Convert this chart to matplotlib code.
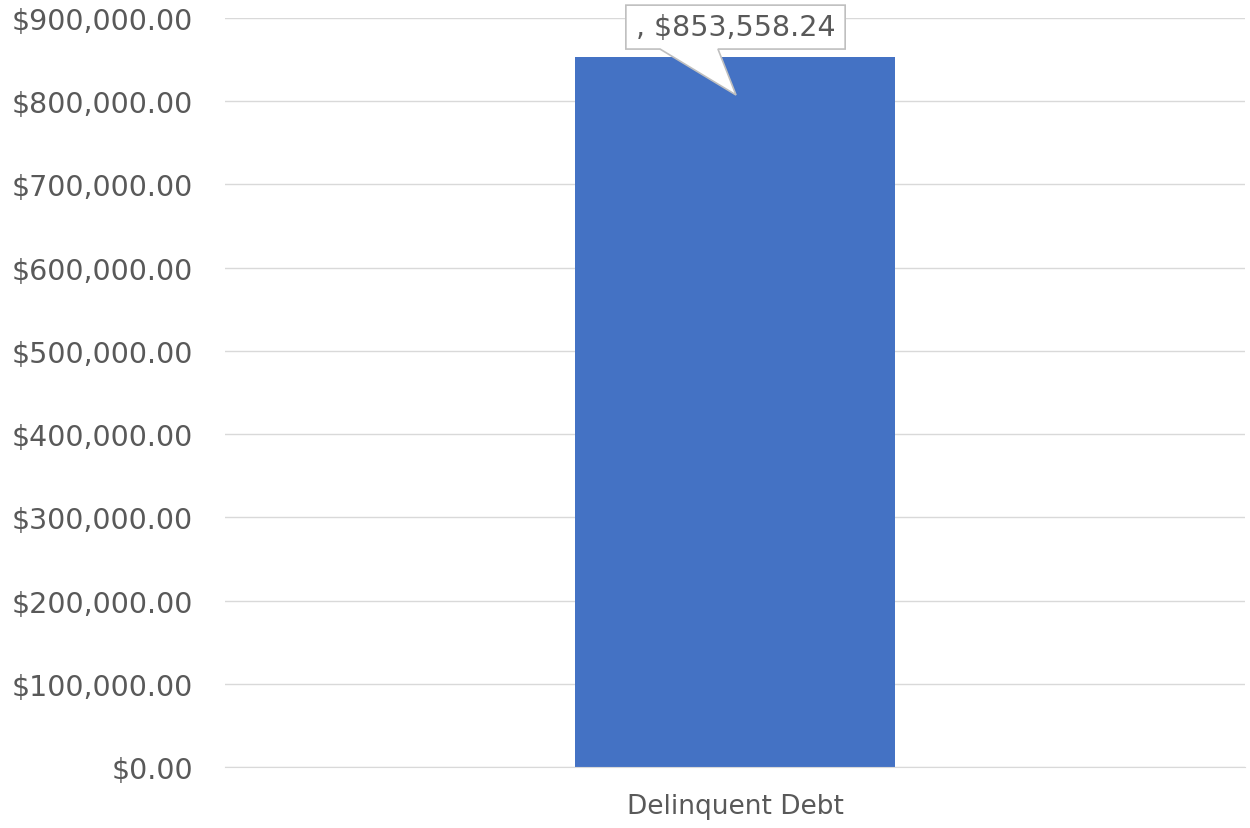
import matplotlib.pyplot as plt
from matplotlib.patches import Polygon
from matplotlib.ticker import FuncFormatter

# data
categories = ['Delinquent Debt']
values = [853558.24]

plt.rcParams['font.family'] = ['DejaVu Sans']
grey = '#595959'

fig = plt.figure(figsize=(12.5, 8.29), dpi=100)
ax = fig.add_axes([0.18, 0.0736, 0.816, 0.9034])

ax.bar(range(len(categories)), values, width=0.3137, color='#4472C4', zorder=3)
ax.set_xlim(-0.5, 0.5)
ax.set_ylim(0, 900000)
ax.set_yticks(range(0, 900001, 100000))
ax.yaxis.set_major_formatter(FuncFormatter(lambda v, p: '${:,.2f}'.format(v)))
ax.set_xticks(range(len(categories)))
ax.set_xticklabels(categories)
ax.tick_params(axis='both', length=0, colors=grey)
ax.tick_params(axis='y', pad=23, labelsize=20.5)
ax.tick_params(axis='x', pad=19, labelsize=19)
ax.grid(axis='y', color='#d9d9d9', lw=1, zorder=0)
for s in ['top', 'right', 'left']:
    ax.spines[s].set_visible(False)
ax.spines['bottom'].set_color('#d9d9d9')
ax.spines['bottom'].set_zorder(4)

# callout label
for i, v in enumerate(values):
    top = v + 62000
    bot = v + 9200
    tip = v - 46000
    pts = [(i - 0.107, top), (i + 0.108, top), (i + 0.108, bot), (i - 0.0167, bot),
           (i + 0.001, tip), (i - 0.0735, bot), (i - 0.107, bot)]
    ax.add_patch(Polygon(pts, closed=True, facecolor='white', edgecolor='#bfbfbf',
                         lw=1.2, zorder=5, clip_on=False))
    ax.text(i + 0.0005, (top + bot) / 2, ', ${:,.2f}'.format(v), ha='center', va='center',
            fontsize=20.5, color=grey, zorder=6)

fig.savefig('out.png')
